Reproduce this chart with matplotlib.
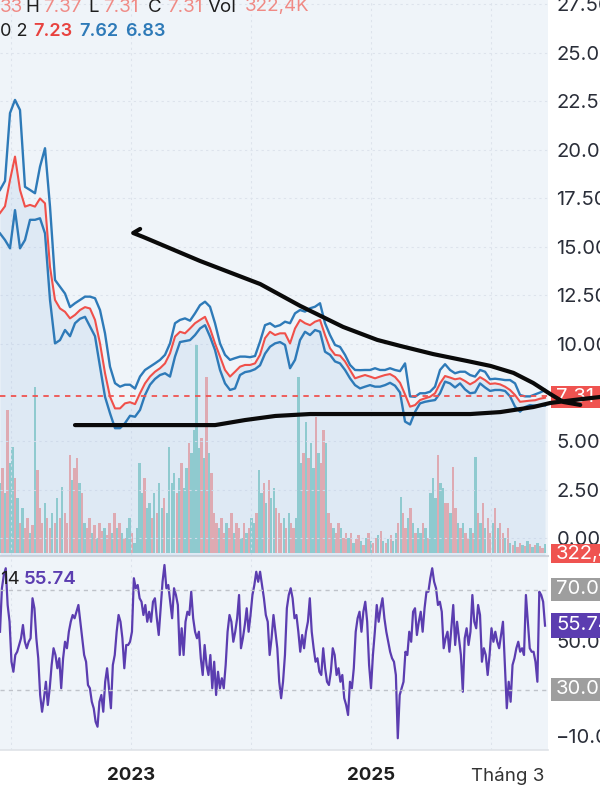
import numpy as np
import pandas as pd
import matplotlib
matplotlib.use("Agg")
import matplotlib.pyplot as plt
from matplotlib.patches import Rectangle
from matplotlib.lines import Line2D

plt.rcParams['font.family'] = ['Inter', 'DejaVu Sans']

# ---------------- data ----------------
start_date = '2021-11-29'
end_date = '2026-06-13'
view_end = '2026-06-22'

bb_upper = [17.94, 18.40, 21.90, 22.58, 22.06, 18.10, 17.94, 17.77, 19.14, 20.09,
            17.08, 13.30, 12.95, 12.60, 11.90, 12.10, 12.27, 12.44, 12.44, 12.36,
            11.75, 10.55, 8.83, 7.98, 7.80, 7.90, 7.90, 7.70, 8.32, 8.66,
            8.83, 9.00, 9.18, 9.44, 10.03, 11.07, 11.24, 11.32, 11.20, 11.58,
            12.00, 12.18, 11.92, 11.07, 10.03, 9.44, 9.18, 9.27, 9.35, 9.35,
            9.32, 9.38, 10.12, 10.97, 11.07, 10.89, 10.97, 11.15, 11.07, 11.58,
            11.75, 11.67, 11.84, 11.92, 12.10, 11.07, 10.46, 9.95, 9.85, 9.44,
            8.92, 8.66, 8.65, 8.66, 8.66, 8.75, 8.66, 8.66, 8.75, 8.66,
            8.60, 9.00, 7.30, 7.28, 7.46, 7.46, 7.54, 7.80, 8.66, 8.96,
            8.66, 8.49, 8.57, 8.57, 8.40, 8.32, 8.66, 8.57, 8.18, 8.21,
            8.18, 8.14, 8.14, 7.97, 7.37, 7.30, 7.30, 7.40, 7.50, 7.62]
bb_basis = [16.75, 17.10, 18.45, 19.66, 17.94, 17.08, 17.17, 17.08, 17.50, 17.25,
            13.98, 12.27, 11.83, 11.66, 11.32, 11.50, 11.75, 11.90, 11.83, 11.24,
            10.03, 8.50, 7.28, 6.68, 6.68, 6.94, 7.00, 6.90, 7.46, 7.97,
            8.32, 8.57, 8.75, 9.00, 9.52, 10.38, 10.63, 10.55, 10.80, 11.07,
            11.24, 11.40, 10.80, 10.03, 9.35, 8.66, 8.32, 8.57, 8.83, 8.92,
            8.92, 9.00, 9.44, 10.30, 10.63, 10.46, 10.55, 10.55, 10.03, 10.80,
            11.24, 11.07, 10.97, 11.15, 11.24, 10.46, 9.78, 9.44, 9.40, 9.10,
            8.66, 8.23, 8.32, 8.40, 8.32, 8.23, 8.32, 8.40, 8.45, 8.30,
            8.00, 7.40, 6.77, 6.85, 7.11, 7.20, 7.28, 7.46, 7.97, 8.35,
            8.27, 8.18, 8.23, 8.09, 7.92, 8.06, 8.29, 8.14, 7.94, 7.97,
            7.92, 7.80, 7.63, 7.37, 7.02, 7.05, 7.08, 7.10, 7.18, 7.23]
bb_lower = [15.70, 15.36, 14.93, 16.90, 14.93, 15.36, 16.40, 16.40, 16.48, 15.70,
            12.27, 10.03, 10.20, 10.72, 10.40, 11.07, 11.30, 11.40, 10.90, 10.40,
            8.83, 7.28, 6.43, 5.66, 5.66, 5.92, 6.30, 6.25, 6.60, 7.37,
            7.90, 8.20, 8.40, 8.49, 8.32, 9.35, 10.10, 10.15, 10.20, 10.46,
            10.80, 10.97, 10.38, 9.69, 8.66, 7.97, 7.63, 7.71, 8.40, 8.55,
            8.60, 8.70, 8.90, 9.50, 9.86, 10.03, 10.10, 9.95, 8.75, 9.18,
            10.20, 10.63, 10.46, 10.72, 10.63, 9.60, 9.44, 9.10, 9.00, 8.66,
            8.23, 7.88, 7.71, 7.80, 7.88, 7.80, 7.80, 7.88, 8.00, 7.85,
            7.50, 6.00, 5.85, 6.50, 6.94, 7.02, 7.07, 7.11, 7.46, 8.06,
            7.97, 7.76, 7.97, 7.66, 7.46, 7.50, 7.97, 7.76, 7.58, 7.63,
            7.63, 7.58, 7.30, 6.77, 6.51, 6.75, 6.85, 6.82, 6.85, 6.83]

# volume in millions of shares
volume_m = [2.45, 2.98, 2.10, 5.00, 3.15, 3.71, 2.63, 1.93,
            1.05, 1.58, 0.88, 1.23, 0.70, 0.98,
            5.81, 2.91,
            1.58, 1.05, 1.75, 1.23, 0.88, 1.40, 1.05, 1.93, 1.23, 2.31, 1.40, 1.05,
            3.43, 2.56, 2.98, 3.33, 2.45, 2.10,
            1.05, 0.88, 1.23, 0.70, 0.98, 0.53, 1.05, 0.77, 0.88, 0.63, 1.05, 0.70,
            1.40, 0.88, 1.05, 0.70, 0.53, 0.88, 1.23, 0.70, 0.35, 0.88,
            3.15, 2.10, 2.63, 1.58, 1.75, 1.23, 2.10, 1.40, 2.45, 1.58, 1.93, 1.40,
            3.71, 2.45, 2.80, 2.10, 2.63, 3.15, 2.28, 2.98,
            3.85, 3.50, 4.31, 7.28, 3.68, 4.03, 3.33, 6.16, 3.50, 2.80,
            1.40, 1.05, 0.88, 1.23, 0.70, 1.05, 0.88, 1.40, 0.70, 1.05, 0.88, 0.53,
            1.05, 0.70, 0.88, 1.23, 1.05, 1.40,
            2.91, 2.10, 2.45, 1.75, 2.56, 1.93, 2.28, 1.58,
            1.40, 1.05, 1.23, 0.88, 1.40, 1.05, 0.88, 1.23,
            6.16, 3.15, 3.50, 4.59, 3.33, 3.85, 2.98, 4.76, 3.50, 3.15, 4.31, 3.85,
            1.40, 1.05, 0.88, 0.70, 1.05, 0.88, 0.53, 0.70,
            0.53, 0.70, 0.35, 0.49, 0.63, 0.42, 0.28, 0.53, 0.70, 0.42,
            0.35, 0.53, 0.63, 0.77, 0.42, 0.35, 0.49, 0.63, 0.42, 0.70,
            1.05, 1.96, 1.40, 0.88, 1.23, 1.58, 1.05, 0.70, 0.88,
            0.70, 1.05, 0.88, 0.53,
            2.10, 2.63, 1.93, 3.43, 2.45, 2.28, 1.75,
            1.75, 1.40, 3.01, 1.58, 1.05,
            0.88, 1.05, 0.70, 0.53, 0.88, 0.70,
            3.36,
            1.40, 1.05, 1.75, 0.88, 1.23, 0.70, 1.05, 1.58, 0.88, 1.05, 0.70, 0.53, 0.88,
            0.35, 0.28, 0.42, 0.21, 0.35, 0.28, 0.25, 0.42, 0.32, 0.21, 0.28, 0.35, 0.25, 0.18, 0.32]
volume_dir = ("grgrggrg" "rgrrgr" "gr" "rrgrrgrgrgrr" "rgrrgr" "grrgrgrrgrrg"
              "rgrgrggrgg" "ggrggrgrggrg" "gggrgrgg" "rggggrgrgr"
              "rrgrrgrrgrrgrgrggr" "ggrgrggr" "rrgrgrrg" "ggrgrggrgrrg" "rrgrrgrr"
              "grgrrgrgrgrrgrgrgrgg" "rgrrgrgrg" "grgr" "gggrggr" "rgrrg" "rgrrgr"
              "g" "rgrgrrgrgrrgr" "grgrrgrgrgrgrrg")

rsi_values = [53.3, 70.7, 76.0, 78.7, 64.0, 57.3, 41.3, 37.3, 44.0, 45.3, 48.0, 50.7, 56.0,
              49.3, 46.7, 49.3, 50.7, 66.7, 62.7, 50.7, 42.7, 28.0, 21.3, 26.7, 33.3, 24.0,
              30.7, 40.0, 46.7, 44.0, 38.7, 42.7, 30.7, 42.7, 49.3, 46.7, 53.3, 57.3, 60.0,
              58.7, 61.3, 64.0, 57.3, 50.7, 44.0, 41.3, 32.0, 30.7, 25.3, 22.7, 17.3, 15.3,
              25.3, 28.0, 21.3, 33.3, 38.7, 30.7, 22.7, 40.0, 44.0, 53.3, 60.0, 57.3, 50.7,
              38.7, 48.0, 48.0, 49.3, 53.3, 74.7, 70.7, 72.0, 66.7, 65.3, 60.0, 64.0, 57.3,
              61.3, 57.3, 65.3, 66.7, 58.7, 52.0, 62.7, 73.3, 80.0, 70.7, 72.0, 65.3, 58.7,
              70.7, 68.0, 64.0, 44.0, 54.7, 44.0, 57.3, 61.3, 60.0, 69.3, 58.7, 53.3, 50.7,
              53.3, 42.7, 36.0, 48.0, 40.0, 36.0, 44.0, 30.7, 41.3, 28.0, 37.3, 30.7, 34.7,
              30.7, 40.0, 53.3, 60.0, 57.3, 49.3, 53.3, 58.7, 68.0, 46.7, 50.7, 56.0, 62.7,
              53.3, 60.0, 68.0, 72.0, 77.3, 73.3, 77.3, 72.0, 66.7, 60.0, 57.3, 44.0, 50.7,
              60.0, 53.3, 46.7, 33.3, 26.7, 33.3, 44.0, 62.7, 68.0, 70.7, 66.7, 58.7, 60.0,
              53.3, 45.3, 52.0, 46.7, 53.3, 57.3, 66.7, 53.3, 46.7, 41.3, 42.7, 37.3, 36.0,
              46.7, 38.7, 33.3, 32.0, 37.3, 46.7, 44.0, 36.0, 38.7, 33.3, 36.0, 26.7, 24.0,
              20.0, 33.3, 30.7, 38.7, 53.3, 58.7, 61.3, 53.3, 61.3, 65.3, 57.3, 40.0, 30.7,
              44.0, 53.3, 64.0, 57.3, 62.7, 66.7, 58.7, 53.3, 49.3, 45.3, 42.7, 41.3, 36.0,
              10.7, 28.0, 30.7, 33.3, 45.3, 44.0, 53.3, 49.3, 61.3, 62.7, 52.0, 57.3, 61.3,
              53.3, 62.7, 69.3, 69.3, 74.7, 78.7, 73.3, 70.7, 64.0, 65.3, 61.3, 46.7, 50.7,
              53.3, 45.3, 54.7, 64.0, 48.0, 57.3, 50.7, 44.0, 29.3, 50.7, 54.7, 48.0, 53.3,
              68.0, 57.3, 54.7, 64.0, 60.0, 41.3, 46.7, 44.0, 36.0, 44.0, 54.7, 49.3, 53.3,
              49.3, 46.7, 52.0, 57.3, 40.0, 22.7, 33.3, 25.3, 40.0, 42.7, 46.7, 49.3, 45.3,
              46.7, 44.0, 68.0, 57.3, 46.7, 45.3, 45.3, 41.3, 33.3, 69.3, 68.0, 65.3, 55.74]

# hand-drawn trend lines (days after start_date, price)
trend_upper_days = [426, 405, 435, 608, 791, 913, 1043, 1147, 1217, 1317, 1421, 1491, 1561, 1621, 1673, 1713, 1764]
trend_upper_price = [15.93, 15.72, 15.52, 14.28, 13.09, 11.96, 10.88, 10.21, 9.90, 9.48, 9.12, 8.87, 8.51, 7.99, 7.42, 7.01, 6.86]
trend_lower_days = [228, 654, 745, 837, 943, 1186, 1430, 1521, 1621, 1673, 1743, 1825]
trend_lower_price = [5.82, 5.82, 6.08, 6.29, 6.39, 6.39, 6.39, 6.49, 6.75, 6.96, 7.11, 7.27]

last_close = 7.31
price_ticks = [0, 2.5, 5, 10, 12.5, 15, 17.5, 20, 22.5, 25, 27.5]
x_tick_dates = ['2023-01-01', '2025-01-01', '2026-02-20']
x_tick_labels = ['2023', '2025', 'Tháng 3']
grid_dates = ['2022-01-01', '2023-01-01', '2024-01-01', '2025-01-01', '2026-01-01']

# ---------------- styling ----------------
W, H = 600, 800
BG = '#eff4f9'
BLUE = '#2e7ab8'
RED = '#ef5350'
SALMON = '#f08a85'
TEAL = '#26a69a'
PURPLE = '#5b3db0'
GREY_BOX = '#9e9e9e'
AXFS = 14.5

def fx(px):
    return px / W

def fy(py):
    return 1 - py / H

fig = plt.figure(figsize=(6, 8), dpi=100)
fig.patch.set_facecolor('white')

ax = fig.add_axes([0, fy(555), fx(548), 555 / H])
axr = fig.add_axes([0, fy(750), fx(548), (750 - 557) / H], sharex=ax)
axv = ax.twinx()

d0 = pd.Timestamp(start_date)
price_dates = pd.date_range(start_date, end_date, periods=len(bb_basis))
vol_dates = pd.date_range(start_date, end_date, periods=len(volume_m))
rsi_dates = pd.date_range(start_date, end_date, periods=len(rsi_values))

# volume (behind)
n = min(len(volume_m), len(volume_dir))
vcols = [TEAL if c == 'g' else RED for c in volume_dir[:n]]
step_days = (pd.Timestamp(end_date) - d0).days / (len(volume_m) - 1)
axv.bar(vol_dates[:n], volume_m[:n], width=step_days * 0.95, color=vcols, alpha=0.5, linewidth=0)
axv.set_ylim(-0.07, 19.36)
axv.set_yticks([])
axv.patch.set_visible(True)
axv.patch.set_facecolor(BG)
for s in axv.spines.values():
    s.set_visible(False)

ax.set_zorder(2)
axv.set_zorder(1)
ax.patch.set_visible(False)

# price panel
ax.fill_between(price_dates, bb_basis, -1, color='#a3c3e6', alpha=0.22, lw=0)
ax.plot(price_dates, bb_upper, color=BLUE, lw=1.7)
ax.plot(price_dates, bb_lower, color=BLUE, lw=1.7)
ax.plot(price_dates, bb_basis, color='#f0504a', lw=1.5)
ax.axhline(last_close, color=RED, lw=1.3, ls=(0, (3, 3)))
for gd in grid_dates:
    ax.axvline(pd.Timestamp(gd), color='#dde3ec', lw=0.8, ls=(0, (2, 3)), zorder=0)
    axr.axvline(pd.Timestamp(gd), color='#dde3ec', lw=0.8, ls=(0, (2, 3)), zorder=0)
for t in price_ticks:
    ax.axhline(t, color='#dde3ec', lw=0.8, ls=(0, (2, 3)), zorder=0)

tu_dates = [d0 + pd.Timedelta(days=d) for d in trend_upper_days]
tl_dates = [d0 + pd.Timedelta(days=d) for d in trend_lower_days]
ax.plot(tu_dates, trend_upper_price, color='#0a0a0a', lw=3.0, clip_on=False,
        solid_capstyle='round', solid_joinstyle='round', zorder=10)
ax.plot(tl_dates, trend_lower_price, color='#0a0a0a', lw=3.0, clip_on=False,
        solid_capstyle='round', solid_joinstyle='round', zorder=10)

ax.set_ylim(-0.876, 27.73)
ax.set_xlim(d0, pd.Timestamp(view_end))
ax.yaxis.tick_right()
ax.set_yticks(price_ticks)
ax.set_yticklabels(['%.2f' % t for t in price_ticks])
ax.tick_params(axis='y', length=0, pad=6, labelsize=AXFS, labelcolor='#2a2e39')
ax.tick_params(axis='x', length=0, labelbottom=False)
for s in ax.spines.values():
    s.set_visible(False)

# RSI panel
axr.set_facecolor(BG)
axr.plot(rsi_dates, rsi_values, color=PURPLE, lw=1.6)
axr.axhline(70, color='#bfc3ca', lw=1.0, ls=(0, (3, 3)))
axr.axhline(30, color='#bfc3ca', lw=1.0, ls=(0, (3, 3)))
axr.set_ylim(6.0, 83.2)
axr.set_yticks([])
axr.set_xticks([pd.Timestamp(d) for d in x_tick_dates])
axr.set_xticklabels(x_tick_labels)
axr.tick_params(axis='x', length=0, pad=12, labelsize=13.5, labelcolor='#1e1e1e')
for lab in axr.get_xticklabels():
    if lab.get_text() != 'Tháng 3':
        lab.set_fontweight('bold')
    else:
        lab.set_color('#333333')
for s in axr.spines.values():
    s.set_visible(False)

# separators
fig.add_artist(Line2D([0, fx(548)], [fy(556), fy(556)], color='#cfd4db', lw=1.5))
fig.add_artist(Line2D([0, fx(548)], [fy(750), fy(750)], color='#dfe3e8', lw=1.2))

# right-side value boxes
def box(y0, y1, color, text, z, tcolor='white'):
    fig.add_artist(Rectangle((fx(551), fy(y1)), fx(600) - fx(551), (y1 - y0) / H,
                             transform=fig.transFigure, facecolor=color, edgecolor='none', zorder=z))
    fig.text(fx(556), fy((y0 + y1) / 2), text, color=tcolor, fontsize=AXFS,
             va='center', ha='left', zorder=z + 0.05)

box(386, 408, RED, '7.31', 1.5)
box(544, 563, RED, '322,4K', 3)
fig.text(fx(556), fy(643), '50.00', color='#2a2e39', fontsize=AXFS, va='center', zorder=3)
box(578, 601, GREY_BOX, '70.00', 3.2)
box(613, 638, PURPLE, '55.74', 3.2)
box(678, 701, GREY_BOX, '30.00', 3.2)
fig.text(fx(556), fy(738), '\u221210.00', color='#2a2e39', fontsize=AXFS, va='center')

# legends (top-left)
row1 = [(0, '33', SALMON), (25, 'H', '#1e1e1e'), (43, '7.37', SALMON), (88, 'L', '#1e1e1e'),
        (103, '7.31', SALMON), (148, 'C', '#1e1e1e'), (167, '7.31', SALMON),
        (208, 'Vol', '#1e1e1e'), (245, '322,4K', SALMON)]
for x, t, c in row1:
    fig.text(fx(x), fy(7), t, color=c, fontsize=13.5, va='center', ha='left', zorder=5)
row2 = [(0, '0 2', '#1e1e1e', 'normal'), (33, '7.23', '#e8423f', 'semibold'),
        (79, '7.62', BLUE, 'semibold'), (125, '6.83', BLUE, 'semibold')]
for x, t, c, w in row2:
    fig.text(fx(x), fy(32), t, color=c, fontsize=13, va='center', ha='left', fontweight=w, zorder=5)
fig.text(fx(0), fy(580), '14', color='#1e1e1e', fontsize=13.5, va='center', zorder=5)
fig.text(fx(24), fy(580), '55.74', color=PURPLE, fontsize=13.5, va='center', fontweight='semibold', zorder=5)

fig.savefig('out.png', dpi=100, facecolor='white')
